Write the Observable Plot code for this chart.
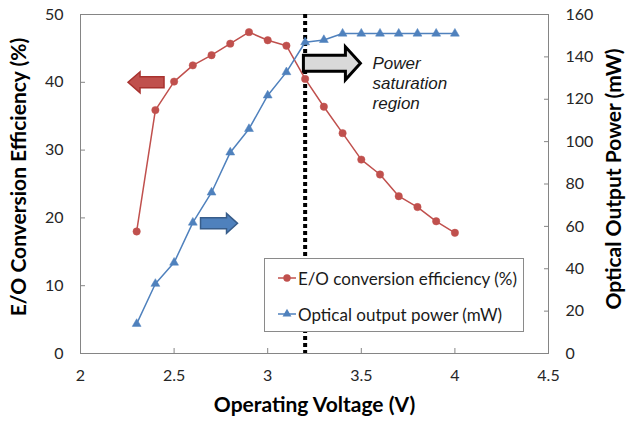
<!DOCTYPE html>
<html>
<head>
<meta charset="utf-8">
<script src="https://cdn.jsdelivr.net/npm/d3@7"></script>
<script src="https://cdn.jsdelivr.net/npm/@observablehq/plot@0.6"></script>
<style>
  body { margin: 0; background: #fff; }
  #chart { position: relative; width: 630px; height: 425px; font-family: Lato, "Open Sans", sans-serif; }
  #chart svg { display: block; }
  .legend {
    position: absolute; left: 264px; top: 258px; width: 260px; height: 74px;
    box-sizing: border-box; border: 1px solid #8a8a8a; background: #fff;
    font-family: Lato, sans-serif; font-size: 17px; color: #1a1a1a;
  }
  .legend .row { position: absolute; left: 13px; display: flex; align-items: center; height: 20px; white-space: nowrap; }
  .legend svg { margin-right: 2px; }
</style>
</head>
<body>
<div id="chart"></div>
<script>
// Operating voltage (V) and the two measured series
const voltage = [2.3, 2.4, 2.5, 2.6, 2.7, 2.8, 2.9, 3.0, 3.1, 3.2, 3.3, 3.4, 3.5, 3.6, 3.7, 3.8, 3.9, 4.0];
const efficiency = [18.0, 35.9, 40.1, 42.5, 44.0, 45.7, 47.4, 46.2, 45.4, 40.5, 36.4, 32.5, 28.6, 26.4, 23.2, 21.6, 19.5, 17.8];
const power = [14.0, 32.9, 42.9, 61.8, 76.0, 94.9, 106.0, 121.8, 132.8, 146.9, 148.0, 151, 151, 151, 151, 151, 151, 151];

// Axis ticks
const xTicks = [2, 2.5, 3, 3.5, 4, 4.5];
const effTicks = [0, 10, 20, 30, 40, 50];
const powerTicks = [0, 20, 40, 60, 80, 100, 120, 140, 160];

// Saturation threshold and annotation anchors (x in V, y in efficiency %)
const saturationVoltage = [3.2];
const effArrow = [{x: 2.35, y: 40}];
const powerArrow = [{x: 2.74, y: 19.2}];
const saturationArrow = [{x: 3.343, y: 42.8}];
const saturationNote = [{x: 3.56, y: 40, text: "Power\nsaturation\nregion"}];

const seriesNames = ["E/O conversion efficiency (%)", "Optical output power (mW)"];
const red = "#c0504d", blue = "#4f81bd";

// The power axis shares the efficiency scale: 0–160 mW maps onto 0–50 %
const EFF_MAX = 50, POW_MAX = 160;
const toEff = p => p * EFF_MAX / POW_MAX;

const effData = voltage.map((v, i) => ({v, y: efficiency[i]}));
const powData = voltage.map((v, i) => ({v, y: toEff(power[i])}));

// Block-arrow symbols drawn around the anchor point
function blockArrow(len, head, shaftH, headH, dir) {
  return {
    draw(ctx) {
      const s = dir, L = len / 2, hs = shaftH / 2, hh = headH / 2;
      const base = L - head;
      ctx.moveTo(-s * L, -hs);
      ctx.lineTo(s * base, -hs);
      ctx.lineTo(s * base, -hh);
      ctx.lineTo(s * L, 0);
      ctx.lineTo(s * base, hh);
      ctx.lineTo(s * base, hs);
      ctx.lineTo(-s * L, hs);
      ctx.closePath();
    }
  };
}

const tickFont = {fontSize: 16, fontFamily: "Lato, sans-serif", fill: "#262626"};
const titleFont = {fontSize: 21, fontWeight: "bold", fill: "#000", textAnchor: "middle", lineAnchor: "middle"};
const axisColor = "#858585";

const plot = Plot.plot({
  width: 630,
  height: 425,
  marginLeft: 80,
  marginRight: 82,
  marginTop: 14,
  marginBottom: 72,
  style: {fontFamily: "Lato, sans-serif", background: "#fff"},
  x: {domain: [2, 4.5]},
  y: {domain: [0, EFF_MAX]},
  marks: [
    Plot.frame({stroke: axisColor}),
    // inward tick marks
    Plot.axisX(xTicks, {tickSize: 5, dy: -5, fill: "none", stroke: axisColor, label: null}),
    Plot.axisY(effTicks, {anchor: "left", tickSize: 5, dx: 5, fill: "none", stroke: axisColor, label: null}),
    Plot.axisY(powerTicks.map(toEff), {anchor: "right", tickSize: 5, dx: -5, fill: "none", stroke: axisColor, label: null}),
    // tick labels
    Plot.axisX(xTicks, {tickSize: 0, tickPadding: 16, label: null, tickFormat: d => `${d}`, ...tickFont}),
    Plot.axisY(effTicks, {anchor: "left", tickSize: 0, tickPadding: 17, label: null, ...tickFont}),
    Plot.axisY(powerTicks.map(toEff), {anchor: "right", tickSize: 0, tickPadding: 17, label: null,
      tickFormat: d => Math.round(d * POW_MAX / EFF_MAX), ...tickFont}),
    // axis titles
    Plot.text(["E/O Conversion Efficiency (%)"], {frameAnchor: "left", dx: -61, dy: -7, rotate: -90, ...titleFont}),
    Plot.text(["Optical Output Power (mW)"], {frameAnchor: "right", dx: 66, dy: -5, rotate: -90, ...titleFont}),
    Plot.text(["Operating Voltage (V)"], {frameAnchor: "bottom", dy: 52, ...titleFont}),
    // saturation threshold
    Plot.ruleX(saturationVoltage, {stroke: "#000", strokeWidth: 4, strokeDasharray: "4,3"}),
    // series
    Plot.line(effData, {x: "v", y: "y", stroke: red, strokeWidth: 1.5}),
    Plot.dot(effData, {x: "v", y: "y", r: 3.7, fill: red, stroke: red, strokeWidth: 0.5}),
    Plot.line(powData, {x: "v", y: "y", stroke: blue, strokeWidth: 1.5}),
    Plot.dot(powData, {x: "v", y: "y", symbol: "triangle", r: 3.3, fill: blue, stroke: blue, strokeWidth: 0.5}),
    // arrows
    Plot.dot(effArrow, {x: "x", y: "y", symbol: blockArrow(36, 12, 11, 21, -1), fill: red, stroke: "#a8322f", strokeWidth: 1.5}),
    Plot.dot(powerArrow, {x: "x", y: "y", symbol: blockArrow(37, 11, 11, 20, 1), fill: blue, stroke: "#385d8a", strokeWidth: 1.5}),
    Plot.dot(saturationArrow, {x: "x", y: "y", symbol: blockArrow(57, 15, 16, 33, 1), fill: "#d9d9d9", stroke: "#000", strokeWidth: 3}),
    Plot.text(saturationNote, {x: "x", y: "y", text: "text", textAnchor: "start", fontSize: 17,
      fontStyle: "italic", fontFamily: "Liberation Sans, Arial, sans-serif", lineHeight: 20 / 17, fill: "#1a1a1a"})
  ]
});

const chart = document.getElementById("chart");
chart.appendChild(plot);

// Legend box
const legend = document.createElement("div");
legend.className = "legend";
const marker = (i) => {
  const c = i === 0 ? red : blue;
  const shape = i === 0
    ? `<circle cx="9" cy="10" r="3.7" fill="${c}"/>`
    : `<path d="${d3.symbol(d3.symbolTriangle, Math.PI * 3.3 * 3.3)()}" transform="translate(9,10)" fill="${c}"/>`;
  return `<svg width="18" height="20"><line x1="0" x2="18" y1="10" y2="10" stroke="${c}" stroke-width="1.5"/>${shape}</svg>`;
};
seriesNames.forEach((name, i) => {
  const row = document.createElement("div");
  row.className = "row";
  row.style.top = (i === 0 ? 9 : 45) + "px";
  row.innerHTML = marker(i) + `<span>${name}</span>`;
  legend.appendChild(row);
});
chart.appendChild(legend);
</script>
</body>
</html>
